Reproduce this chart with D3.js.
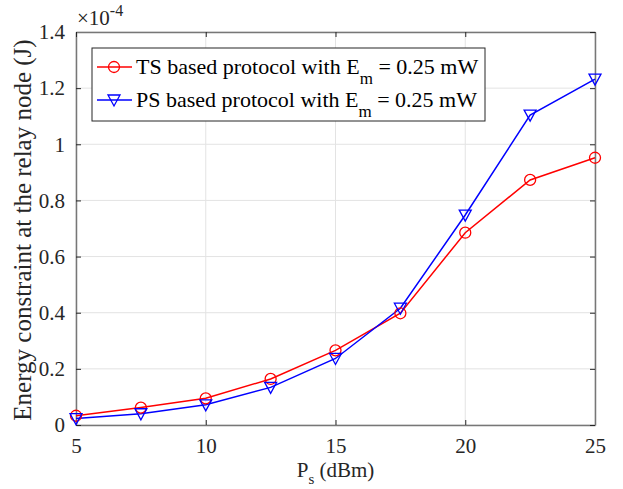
<!DOCTYPE html>
<html>
<head>
<meta charset="utf-8">
<script src="https://cdn.jsdelivr.net/npm/d3@7"></script>
<style>
  body { margin: 0; background: #fff; }
  svg text { font-family: "Liberation Serif", "Times New Roman", serif; fill: #262626; }
</style>
</head>
<body>
<div id="chart"></div>
<script>
var svgWidth = 623;
var svgHeight = 489;

var margin = { top: 32, right: 28, bottom: 64, left: 76 };
var width = svgWidth - margin.left - margin.right;
var height = svgHeight - margin.top - margin.bottom;

// data (y values in units of 1e-4 J)
var ps = [5, 7.5, 10, 12.5, 15, 17.5, 20, 22.5, 25];
var tsValues = [0.033, 0.062, 0.095, 0.164, 0.266, 0.398, 0.685, 0.873, 0.952];
var psValues = [0.023, 0.040, 0.072, 0.134, 0.237, 0.416, 0.748, 1.104, 1.232];
var xTicks = [5, 10, 15, 20, 25];
var yTicks = [0, 0.2, 0.4, 0.6, 0.8, 1, 1.2, 1.4];

var serif = "'Liberation Serif', 'Times New Roman', serif";

var svg = d3.select("#chart").append("svg")
    .attr("width", svgWidth)
    .attr("height", svgHeight);

var chartGroup = svg.append("g")
    .attr("transform", `translate(${margin.left}, ${margin.top})`);

var x = d3.scaleLinear().domain([5, 25]).range([0, width]);
var y = d3.scaleLinear().domain([0, 1.4]).range([height, 0]);

// grid
chartGroup.selectAll(".gx").data(xTicks).enter().append("line")
    .attr("x1", d => x(d)).attr("x2", d => x(d))
    .attr("y1", 0).attr("y2", height)
    .attr("stroke", "#e3e3e3").attr("stroke-width", 1);
chartGroup.selectAll(".gy").data(yTicks).enter().append("line")
    .attr("x1", 0).attr("x2", width)
    .attr("y1", d => y(d)).attr("y2", d => y(d))
    .attr("stroke", "#e3e3e3").attr("stroke-width", 1);

// axes
var bottomAxis = d3.axisBottom(x).tickValues(xTicks).tickSizeInner(-5).tickSizeOuter(0).tickPadding(13);
var leftAxis = d3.axisLeft(y).tickValues(yTicks).tickSizeInner(-5).tickSizeOuter(0).tickPadding(11)
    .tickFormat(d => d3.format("")(+d.toFixed(1)));
var topAxis = d3.axisTop(x).tickValues(xTicks).tickSizeInner(-5).tickSizeOuter(0).tickFormat("");
var rightAxis = d3.axisRight(y).tickValues(yTicks).tickSizeInner(-5).tickSizeOuter(0).tickFormat("");

function styleAxis(g) {
  g.attr("font-family", serif).attr("font-size", 21);
  g.select(".domain").attr("stroke", "#777").attr("stroke-width", 1.5);
  g.selectAll(".tick line").attr("stroke", "#262626");
  g.selectAll(".tick text").attr("fill", "#262626");
}

chartGroup.append("g").attr("transform", `translate(0, ${height})`).call(bottomAxis).call(styleAxis);
chartGroup.append("g").call(leftAxis).call(styleAxis);
chartGroup.append("g").call(topAxis).call(styleAxis);
chartGroup.append("g").attr("transform", `translate(${width}, 0)`).call(rightAxis).call(styleAxis);

// exponent
var expo = chartGroup.append("text").attr("x", 1).attr("y", -7).attr("font-size", 21);
expo.append("tspan").text("\u00d710");
expo.append("tspan").attr("dy", -9).attr("font-size", 16).text("-4");

// lines
var line = d3.line().x((d, i) => x(ps[i])).y(d => y(d));

chartGroup.append("path").datum(tsValues)
    .attr("d", line).attr("fill", "none").attr("stroke", "#ff0000").attr("stroke-width", 1.5);
chartGroup.append("path").datum(psValues)
    .attr("d", line).attr("fill", "none").attr("stroke", "#0000ff").attr("stroke-width", 1.5);

var tri = "M-6,-5L6,-5L0,6Z";

chartGroup.selectAll(".ts").data(tsValues).enter().append("circle")
    .attr("cx", (d, i) => x(ps[i])).attr("cy", d => y(d)).attr("r", 5.5)
    .attr("fill", "none").attr("stroke", "#ff0000").attr("stroke-width", 1.3);
chartGroup.selectAll(".psm").data(psValues).enter().append("path")
    .attr("d", tri)
    .attr("transform", (d, i) => `translate(${x(ps[i])}, ${y(d)})`)
    .attr("fill", "none").attr("stroke", "#0000ff").attr("stroke-width", 1.3);

// legend
var legend = chartGroup.append("g").attr("transform", "translate(16, 16)");
legend.append("rect").attr("width", 393).attr("height", 73)
    .attr("fill", "#fff").attr("stroke", "#262626").attr("stroke-width", 1);

var legendItems = [
  { name: "TS based protocol with E", color: "#ff0000", marker: "circle" },
  { name: "PS based protocol with E", color: "#0000ff", marker: "tri" }
];
legendItems.forEach(function(item, i) {
  var yy = 19 + i * 33;
  legend.append("line").attr("x1", 5).attr("x2", 40).attr("y1", yy).attr("y2", yy)
      .attr("stroke", item.color).attr("stroke-width", 1.5);
  if (item.marker === "circle") {
    legend.append("circle").attr("cx", 22).attr("cy", yy).attr("r", 5.5)
        .attr("fill", "none").attr("stroke", item.color).attr("stroke-width", 1.3);
  } else {
    legend.append("path").attr("d", tri).attr("transform", `translate(22, ${yy})`)
        .attr("fill", "none").attr("stroke", item.color).attr("stroke-width", 1.3);
  }
  var t = legend.append("text").attr("x", 44).attr("y", yy + 7).attr("font-size", 22);
  t.append("tspan").text(item.name).style("fill", "#000");
  t.append("tspan").attr("dy", 10).attr("font-size", 17).text("m").style("fill", "#000");
  t.append("tspan").attr("dy", -10).text(" = 0.25 mW").style("fill", "#000");
});

// axis labels
var xl = chartGroup.append("text")
    .attr("x", width / 2).attr("y", height + 52)
    .attr("text-anchor", "middle").attr("font-size", 21);
xl.append("tspan").text("P");
xl.append("tspan").attr("dy", 7).attr("font-size", 15).text("s");
xl.append("tspan").attr("dy", -7).text(" (dBm)");

chartGroup.append("text")
    .attr("transform", "rotate(-90)")
    .attr("x", -198).attr("y", -45)
    .attr("text-anchor", "middle").attr("font-size", 25)
    .text("Energy constraint at the relay node (J)");
</script>
</body>
</html>
